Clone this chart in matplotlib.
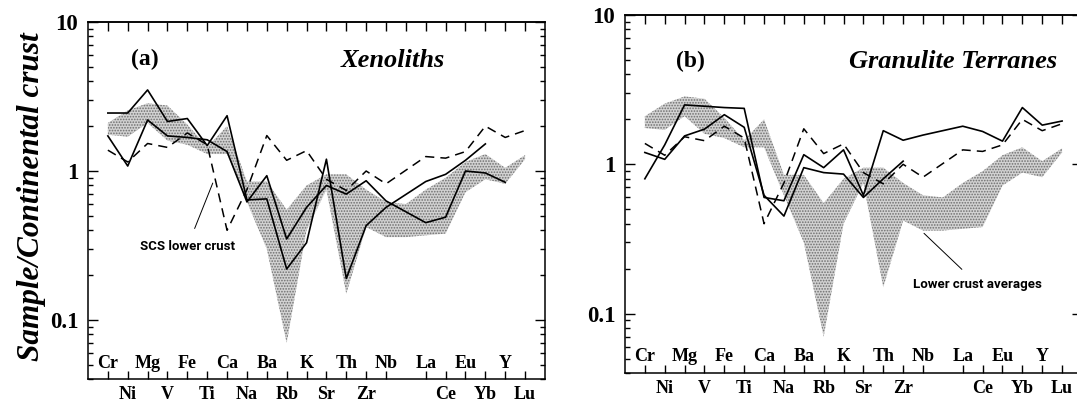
import numpy as np
import matplotlib.pyplot as plt
from matplotlib.ticker import FixedLocator, NullFormatter, FuncFormatter, LogLocator

plt.rcParams['font.family'] = ['Liberation Serif', 'DejaVu Serif']
plt.rcParams['hatch.linewidth'] = 0.8

# element order along x (position 15 has no element)
elements = ['Cr', 'Ni', 'Mg', 'V', 'Fe', 'Ti', 'Ca', 'Na', 'Ba', 'Rb', 'K',
            'Sr', 'Th', 'Zr', 'Nb', '', 'La', 'Ce', 'Eu', 'Yb', 'Y', 'Lu']
nan = np.nan

# SCS lower crust (dashed, same in both panels)
scs = [1.38, 1.15, 1.53, 1.44, 1.8, 1.5, 0.4, 0.75, 1.73, 1.18, 1.37,
       0.88, 0.74, 1.0, 0.82, nan, 1.25, 1.22, 1.35, 2.0, 1.68, 1.87]

# lower crust averages range (shaded, same in both panels)
lca_hi = [2.1, 2.55, 2.85, 2.75, 2.05, 1.45, 2.0, 0.85, 0.85, 0.55, 0.8,
          0.95, 0.95, 0.75, 0.62, 0.6, 0.75, 0.9, 1.15, 1.3, 1.05, 1.28]
lca_lo = [1.75, 1.7, 2.1, 1.6, 1.5, 1.3, 1.3, 0.62, 0.3, 0.07, 0.4,
          0.75, 0.15, 0.42, 0.36, 0.36, 0.37, 0.38, 0.72, 0.88, 0.82, 1.2]

# (a) xenoliths
xeno_1 = [2.45, 2.45, 3.5, 2.15, 2.25, 1.48, 2.35, 0.64, 0.65, 0.22, 0.33,
          1.2, 0.19, 0.43, 0.57, nan, 0.85, 0.95, 1.18, 1.52, nan, nan]
xeno_2 = [1.72, 1.08, 2.2, 1.72, 1.68, 1.62, 1.35, 0.62, 0.93, 0.35, 0.57,
          0.8, 0.7, 0.86, 0.63, nan, 0.45, 0.49, 1.0, 0.97, 0.84, nan]

# (b) granulite terranes
gran_1 = [0.8, 1.35, 2.5, 2.45, 2.4, 2.37, 0.6, 0.57, 1.16, 0.95, 1.25,
          0.62, 1.68, 1.45, 1.57, nan, 1.8, 1.66, 1.43, 2.4, 1.83, 1.95]
gran_2 = [1.2, 1.08, 1.55, 1.72, 2.15, 1.77, 0.62, 0.45, 0.95, 0.88, 0.86,
          0.6, 0.8, 1.05, nan, nan, nan, nan, nan, nan, nan, nan]

x = np.arange(len(elements))
narrow = ['Roboto', 'DejaVu Sans']


def line(ax, vals, **kw):
    v = np.asarray(vals, dtype=float)
    m = ~np.isnan(v)
    ax.plot(x[m], v[m], color='black', **kw)


def setup(ax):
    ax.set_yscale('log')
    ax.set_ylim(0.04, 10)
    ax.set_xlim(-1, 22)
    for s in ax.spines.values():
        s.set_linewidth(1.1)
    ax.yaxis.set_major_locator(FixedLocator([0.1, 1, 10]))
    ax.yaxis.set_major_formatter(FuncFormatter(lambda v, p: {0.1: '0.1', 1: '1', 10: '10'}.get(round(v, 3), '')))
    ax.yaxis.set_minor_locator(LogLocator(base=10, subs=np.arange(2, 10)))
    ax.yaxis.set_minor_formatter(NullFormatter())
    ax.tick_params(axis='y', which='major', direction='in', length=7, width=1,
                   right=True, labelsize=16.5, pad=7)
    ax.tick_params(axis='y', which='minor', direction='in', length=3.5, width=1,
                   right=True)
    for t in ax.get_yticklabels():
        t.set_fontweight('bold')
    bx = [i for i, e in enumerate(elements) if e]
    ax.set_xticks(bx)
    ax.tick_params(axis='x', direction='in', length=6, width=1, labelbottom=False)
    top = ax.secondary_xaxis('top')
    top.set_xticks(x)
    top.tick_params(direction='in', length=6.5, width=1, labeltop=False)
    top.spines['top'].set_linewidth(1.1)
    tr = ax.get_xaxis_transform()
    for i, e in enumerate(elements):
        if not e:
            continue
        yy = 0.045 if i % 2 == 0 else -0.042
        ax.text(i, yy, e, transform=tr, ha='center', va='center',
                fontsize=13, fontweight='bold')
    ax.fill_between(x, lca_lo, lca_hi, facecolor='#d2d2d2', hatch='......',
                    edgecolor='#6e6e6e', linewidth=0, zorder=1)
    line(ax, scs, lw=1.1, ls=(0, (6, 4)), zorder=3)


fig = plt.figure(figsize=(10.77, 4.03), dpi=100)
ax1 = fig.add_axes([0.0817, 0.0588, 0.4243, 0.8866])
ax2 = fig.add_axes([0.5803, 0.0744, 0.4243, 0.8883])

setup(ax1)
line(ax1, xeno_1, lw=1.2, zorder=3)
line(ax1, xeno_2, lw=1.2, zorder=3)
ax1.text(0.125, 0.895, '(a)', transform=ax1.transAxes, ha='center', va='center',
         fontsize=17, fontweight='bold')
ax1.text(0.78, 0.893, 'Xenoliths', transform=ax1.transAxes, ha='right', va='center',
         fontsize=19, fontweight='bold', style='italic')
ax1.annotate('SCS lower crust', xy=(5.28, 0.83), xytext=(4.0, 0.31),
             ha='center', va='center', fontsize=9.5, fontweight='bold',
             family=narrow,
             arrowprops=dict(arrowstyle='-', color='black', lw=0.7,
                             shrinkA=7, shrinkB=0))

setup(ax2)
line(ax2, gran_1, lw=1.2, zorder=3)
line(ax2, gran_2, lw=1.2, zorder=3)
ax2.text(0.144, 0.87, '(b)', transform=ax2.transAxes, ha='center', va='center',
         fontsize=17, fontweight='bold')
ax2.text(0.945, 0.87, 'Granulite Terranes', transform=ax2.transAxes, ha='right',
         va='center', fontsize=19, fontweight='bold', style='italic')
ax2.annotate('Lower crust averages', xy=(14.05, 0.345), xytext=(16.75, 0.157),
             ha='center', va='center', fontsize=9.5, fontweight='bold',
             family=narrow,
             arrowprops=dict(arrowstyle='-', color='black', lw=0.7,
                             shrinkA=6, shrinkB=0))

fig.text(0.029, 0.511, 'Sample/Continental crust', rotation=90, ha='center',
         va='center', fontsize=22.5, fontweight='bold', style='italic')

fig.savefig('out.png', dpi=100)
